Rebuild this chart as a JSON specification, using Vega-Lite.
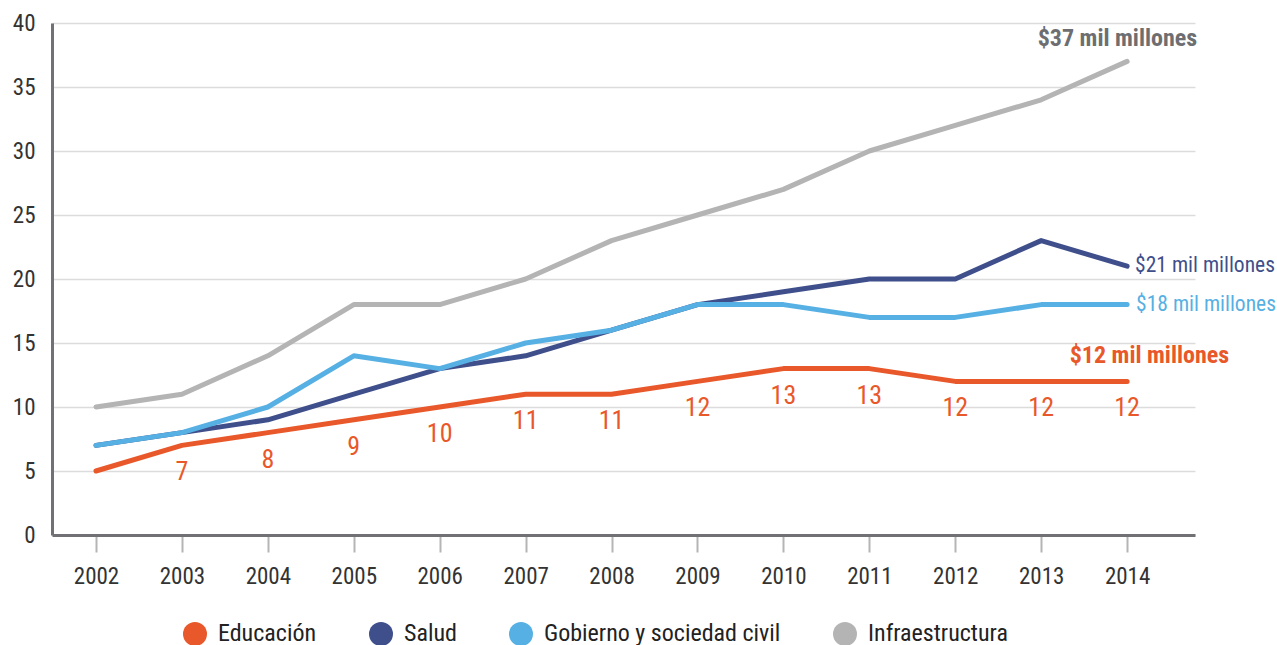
{
  "$schema": "https://vega.github.io/schema/vega-lite/v6.json",
  "width": 1143,
  "height": 512,
  "autosize": "none",
  "padding": {"left": 52, "top": 23, "right": 82, "bottom": 110},
  "background": "white",
  "config": {
    "view": {"stroke": null},
    "font": "Roboto Condensed, Liberation Sans Narrow, DejaVu Sans Condensed, Roboto",
    "text": {"font": "Roboto Condensed, Liberation Sans Narrow, DejaVu Sans Condensed, Roboto"}
  },
  "datasets": {
    "series": [
      {"sector": "Infraestructura", "year": 2002, "value": 10},
      {"sector": "Infraestructura", "year": 2003, "value": 11},
      {"sector": "Infraestructura", "year": 2004, "value": 14},
      {"sector": "Infraestructura", "year": 2005, "value": 18},
      {"sector": "Infraestructura", "year": 2006, "value": 18},
      {"sector": "Infraestructura", "year": 2007, "value": 20},
      {"sector": "Infraestructura", "year": 2008, "value": 23},
      {"sector": "Infraestructura", "year": 2009, "value": 25},
      {"sector": "Infraestructura", "year": 2010, "value": 27},
      {"sector": "Infraestructura", "year": 2011, "value": 30},
      {"sector": "Infraestructura", "year": 2012, "value": 32},
      {"sector": "Infraestructura", "year": 2013, "value": 34},
      {"sector": "Infraestructura", "year": 2014, "value": 37},
      {"sector": "Salud", "year": 2002, "value": 7},
      {"sector": "Salud", "year": 2003, "value": 8},
      {"sector": "Salud", "year": 2004, "value": 9},
      {"sector": "Salud", "year": 2005, "value": 11},
      {"sector": "Salud", "year": 2006, "value": 13},
      {"sector": "Salud", "year": 2007, "value": 14},
      {"sector": "Salud", "year": 2008, "value": 16},
      {"sector": "Salud", "year": 2009, "value": 18},
      {"sector": "Salud", "year": 2010, "value": 19},
      {"sector": "Salud", "year": 2011, "value": 20},
      {"sector": "Salud", "year": 2012, "value": 20},
      {"sector": "Salud", "year": 2013, "value": 23},
      {"sector": "Salud", "year": 2014, "value": 21},
      {"sector": "Gobierno y sociedad civil", "year": 2002, "value": 7},
      {"sector": "Gobierno y sociedad civil", "year": 2003, "value": 8},
      {"sector": "Gobierno y sociedad civil", "year": 2004, "value": 10},
      {"sector": "Gobierno y sociedad civil", "year": 2005, "value": 14},
      {"sector": "Gobierno y sociedad civil", "year": 2006, "value": 13},
      {"sector": "Gobierno y sociedad civil", "year": 2007, "value": 15},
      {"sector": "Gobierno y sociedad civil", "year": 2008, "value": 16},
      {"sector": "Gobierno y sociedad civil", "year": 2009, "value": 18},
      {"sector": "Gobierno y sociedad civil", "year": 2010, "value": 18},
      {"sector": "Gobierno y sociedad civil", "year": 2011, "value": 17},
      {"sector": "Gobierno y sociedad civil", "year": 2012, "value": 17},
      {"sector": "Gobierno y sociedad civil", "year": 2013, "value": 18},
      {"sector": "Gobierno y sociedad civil", "year": 2014, "value": 18},
      {"sector": "Educación", "year": 2002, "value": 5},
      {"sector": "Educación", "year": 2003, "value": 7},
      {"sector": "Educación", "year": 2004, "value": 8},
      {"sector": "Educación", "year": 2005, "value": 9},
      {"sector": "Educación", "year": 2006, "value": 10},
      {"sector": "Educación", "year": 2007, "value": 11},
      {"sector": "Educación", "year": 2008, "value": 11},
      {"sector": "Educación", "year": 2009, "value": 12},
      {"sector": "Educación", "year": 2010, "value": 13},
      {"sector": "Educación", "year": 2011, "value": 13},
      {"sector": "Educación", "year": 2012, "value": 12},
      {"sector": "Educación", "year": 2013, "value": 12},
      {"sector": "Educación", "year": 2014, "value": 12}
    ],
    "ends": [
      {"sector": "Infraestructura", "year": 2014, "value": 37, "label": "$37 mil millones"},
      {"sector": "Salud", "year": 2014, "value": 21, "label": "$21 mil millones"},
      {"sector": "Gobierno y sociedad civil", "year": 2014, "value": 18, "label": "$18 mil millones"},
      {"sector": "Educación", "year": 2014, "value": 12, "label": "$12 mil millones"}
    ]
  },
  "encoding": {
    "x": {
      "field": "year",
      "type": "quantitative",
      "scale": {"domain": [2001.488, 2014.79], "nice": false, "zero": false},
      "axis": {
        "values": [2002, 2003, 2004, 2005, 2006, 2007, 2008, 2009, 2010, 2011, 2012, 2013, 2014],
        "format": "d",
        "title": null,
        "grid": false,
        "domainColor": "#707075",
        "domainWidth": 3,
        "tickColor": "#b5b5b5",
        "tickWidth": 2,
        "tickSize": 17,
        "labelFontSize": 23,
        "labelColor": "#333333",
        "labelPadding": 13
      }
    },
    "y": {
      "field": "value",
      "type": "quantitative",
      "scale": {"domain": [0, 40], "nice": false},
      "axis": {
        "values": [0, 5, 10, 15, 20, 25, 30, 35, 40],
        "title": null,
        "grid": true,
        "gridColor": "#dcdcdc",
        "gridWidth": 1.5,
        "domainColor": "#707075",
        "domainWidth": 3,
        "ticks": false,
        "labelPadding": 17,
        "labelFontSize": 23,
        "labelColor": "#333333"
      }
    }
  },
  "layer": [
    {
      "data": {"name": "series"},
      "mark": {"type": "line", "strokeWidth": 5, "strokeCap": "round", "strokeJoin": "round"},
      "encoding": {
        "color": {
          "field": "sector",
          "type": "nominal",
          "scale": {
            "domain": ["Educación", "Salud", "Gobierno y sociedad civil", "Infraestructura"],
            "range": ["#e8582a", "#3f4f8b", "#56b0e3", "#b4b4b4"]
          },
          "legend": {
            "orient": "none",
            "legendX": 131,
            "legendY": 599,
            "direction": "horizontal",
            "title": null,
            "symbolType": "circle",
            "symbolSize": 576,
            "symbolStrokeWidth": 0,
            "labelFontSize": 24,
            "labelLimit": 400,
            "labelColor": "#222222",
            "labelOffset": 11,
            "columnPadding": 52,
            "encode": {
              "symbols": {"update": {"fill": {"scale": "color", "field": "value"}, "stroke": {"value": "transparent"}, "opacity": {"value": 1}}}
            }
          }
        }
      }
    },
    {
      "data": {"name": "series"},
      "transform": [{"filter": "datum.sector == 'Educación' && datum.year > 2002"}],
      "mark": {"type": "text", "dy": 27, "fontSize": 26, "color": "#e8582a", "baseline": "middle"},
      "encoding": {"text": {"field": "value", "type": "quantitative"}}
    },
    {
      "data": {"name": "ends"},
      "transform": [{"filter": "datum.sector == 'Infraestructura'"}],
      "mark": {"type": "text", "align": "right", "baseline": "middle", "dx": 70, "dy": -22, "fontSize": 24, "fontWeight": "bold", "color": "#6d6e71"},
      "encoding": {"text": {"field": "label"}}
    },
    {
      "data": {"name": "ends"},
      "transform": [{"filter": "datum.sector == 'Educación'"}],
      "mark": {"type": "text", "align": "right", "baseline": "middle", "dx": 102, "dy": -25, "fontSize": 24, "fontWeight": "bold", "color": "#e8582a"},
      "encoding": {"text": {"field": "label"}}
    },
    {
      "data": {"name": "ends"},
      "transform": [{"filter": "datum.sector == 'Salud'"}],
      "mark": {"type": "text", "align": "left", "baseline": "middle", "dx": 8, "dy": 0, "fontSize": 21.5, "color": "#3f4f8b"},
      "encoding": {"text": {"field": "label"}}
    },
    {
      "data": {"name": "ends"},
      "transform": [{"filter": "datum.sector == 'Gobierno y sociedad civil'"}],
      "mark": {"type": "text", "align": "left", "baseline": "middle", "dx": 9, "dy": 0, "fontSize": 21.5, "color": "#56b0e3"},
      "encoding": {"text": {"field": "label"}}
    }
  ]
}
